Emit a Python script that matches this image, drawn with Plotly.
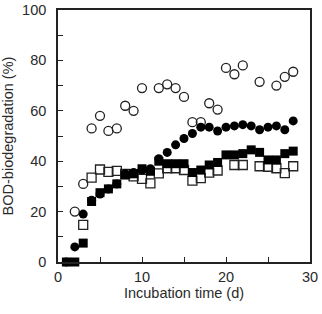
import plotly.graph_objects as go

# Open circles
oc_day = [2, 3, 4, 5, 6, 7, 8, 9, 10, 12, 13, 14, 15, 16, 17, 18, 19, 20, 21, 22, 24, 26, 27, 28]
oc_val = [20, 31, 53, 58, 52, 53, 62, 60, 69, 69, 70.5, 69, 65.5, 55.5, 55.5, 63, 60.5, 77, 74.5, 78, 71.5, 70, 73.5, 75.5]

# Filled circles
fc_day = list(range(1, 29))
fc_val = [0, 6, 19, 24.5, 27, 29, 31, 35, 35.5, 36.5, 37, 41, 43.5, 46.5, 49, 51, 53.5, 53.5, 52, 53.5, 54, 54.5, 54, 52.5, 53.5, 54, 52.5, 56]

# Filled squares
fs_day = list(range(1, 29))
fs_val = [0, 0, 7.5, 24, 27.5, 29, 31, 34.5, 35, 37, 36, 40, 39, 39, 39, 35.5, 36.5, 38.5, 39.5, 42.5, 42.5, 43, 44.5, 43.5, 40.5, 40.5, 43, 44]

# Open squares
os_day = [3, 4, 5, 6, 7, 8, 9, 10, 11, 12, 13, 14, 15, 16, 17, 18, 19, 21, 22, 24, 25, 26, 27, 28]
os_val = [14.7, 33.5, 36.7, 35.8, 36.2, 35, 34, 33, 31.2, 35.2, 37.2, 37.2, 36.5, 32.3, 33.3, 35.5, 36.3, 38.5, 38.5, 38, 37.8, 37.2, 35.3, 38]

fig = go.Figure()
ms = 9
lw = 1.3
fig.add_trace(go.Scatter(x=os_day, y=os_val, mode="markers", cliponaxis=False,
                         marker=dict(symbol="square-open", size=ms, color="#222", line=dict(width=lw))))
fig.add_trace(go.Scatter(x=fs_day, y=fs_val, mode="markers", cliponaxis=False,
                         marker=dict(symbol="square", size=ms, color="#000")))
fig.add_trace(go.Scatter(x=oc_day, y=oc_val, mode="markers", cliponaxis=False,
                         marker=dict(symbol="circle-open", size=ms, color="#222", line=dict(width=lw))))
fig.add_trace(go.Scatter(x=fc_day, y=fc_val, mode="markers", cliponaxis=False,
                         marker=dict(symbol="circle", size=ms, color="#000")))

font = dict(family="Liberation Sans, Arial", size=14.5, color="#2a2a2a")
axis_common = dict(showline=True, linecolor="#222", linewidth=1.6, mirror=True,
                   ticks="inside", ticklen=5, tickwidth=1.3, tickcolor="#222",
                   showgrid=False, zeroline=False, automargin=False,
                   tickfont=font, title_font=font)

fig.update_xaxes(range=[0, 30], tickvals=[0, 10, 20, 30], ticklabelstandoff=1,
                 minor=dict(tickvals=[5, 15, 25], ticks="inside", ticklen=5, tickwidth=1.3, tickcolor="#222"),
                 title_text="Incubation time (d)", title_standoff=4, **axis_common)
fig.update_yaxes(range=[0, 100], tickvals=[0, 20, 40, 60, 80, 100], ticklabelstandoff=7,
                 minor=dict(tickvals=[10, 30, 50, 70, 90], ticks="inside", ticklen=5, tickwidth=1.3, tickcolor="#222"),
                 title_text="BOD-biodegradation (%)", title_standoff=9, **axis_common)

fig.update_layout(width=322, height=314, margin=dict(l=58, r=12, t=10, b=52),
                  paper_bgcolor="white", plot_bgcolor="white", showlegend=False)

fig.write_html("out.html")
